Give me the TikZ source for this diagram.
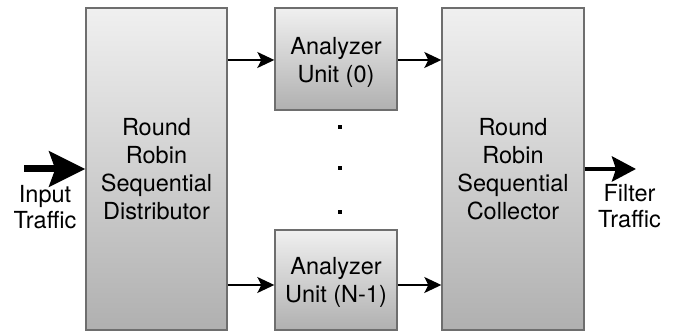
\documentclass[tikz,border=0pt]{standalone}
\usepackage{fontspec}
\setmainfont{TeX Gyre Heros}
\usetikzlibrary{arrows.meta,calc}
\definecolor{topg}{HTML}{F0F0F0}
\definecolor{botg}{HTML}{B0B0B0}
\definecolor{edgeg}{HTML}{6E6E6E}
\tikzset{
  x=1pt,y=1pt,
  block/.style={draw=edgeg,line width=1.4pt,top color=topg,bottom color=botg,inner sep=0pt},
  btext/.style={align=center,inner sep=0pt,font=\fontsize{23.5}{28}\selectfont},
  flow/.style={line width=1.5pt,-{Stealth[length=17pt,width=16pt,inset=4pt]}},
  bigflow/.style={line width=7pt,-{Stealth[length=36pt,width=35pt,inset=6pt]}},
  midflow/.style={line width=4.5pt,-{Stealth[length=24pt,width=25pt,inset=4pt]}},
  lbl/.style={align=center,inner sep=0pt,font=\fontsize{23.5}{25.5}\selectfont},
  dotmark/.style={fill=black,minimum size=3.5pt,inner sep=0pt,rectangle}
}
\begin{document}
\begin{tikzpicture}
\useasboundingbox (0,0) rectangle (686,331);
\node[block,minimum width=141pt,minimum height=322pt] (dist) at (156.5,162) {};
\node[block,minimum width=122pt,minimum height=102pt] (a0) at (336,272) {};
\node[block,minimum width=122pt,minimum height=100pt] (a1) at (336,51) {};
\node[block,minimum width=142pt,minimum height=322pt] (coll) at (513,162) {};
\node[btext] (distT) at (156.5,162) {Round\\Robin\\Sequential\\Distributor};
\node[btext] (a0T) at (336,269) {Analyzer\\Unit (0)};
\node[btext] (a1T) at (336,48.5) {Analyzer\\Unit (N-1)};
\node[btext] (collT) at (513,162) {Round\\Robin\\Sequential\\Collector};
\node[dotmark] (d1) at (340,204) {};
\node[dotmark] (d2) at (340,163) {};
\node[dotmark] (d3) at (340,119) {};
\coordinate (inS) at (24,162);
\coordinate (outE) at (636,162);
\draw[bigflow] (inS) -- (inS -| dist.west);
\draw[midflow] (outE -| coll.east) -- (outE);
\node[lbl] (inL) at (45,124) {Input\\Traffic};
\node[lbl] (outL) at (629.5,125) {Filter\\Traffic};
\draw[flow] (dist.east |- 0,271) -- (a0.west |- 0,271);
\draw[flow] (a0.east |- 0,271) -- (coll.west |- 0,271);
\draw[flow] (dist.east |- 0,46) -- (a1.west |- 0,46);
\draw[flow] (a1.east |- 0,46) -- (coll.west |- 0,46);
\end{tikzpicture}
\end{document}
